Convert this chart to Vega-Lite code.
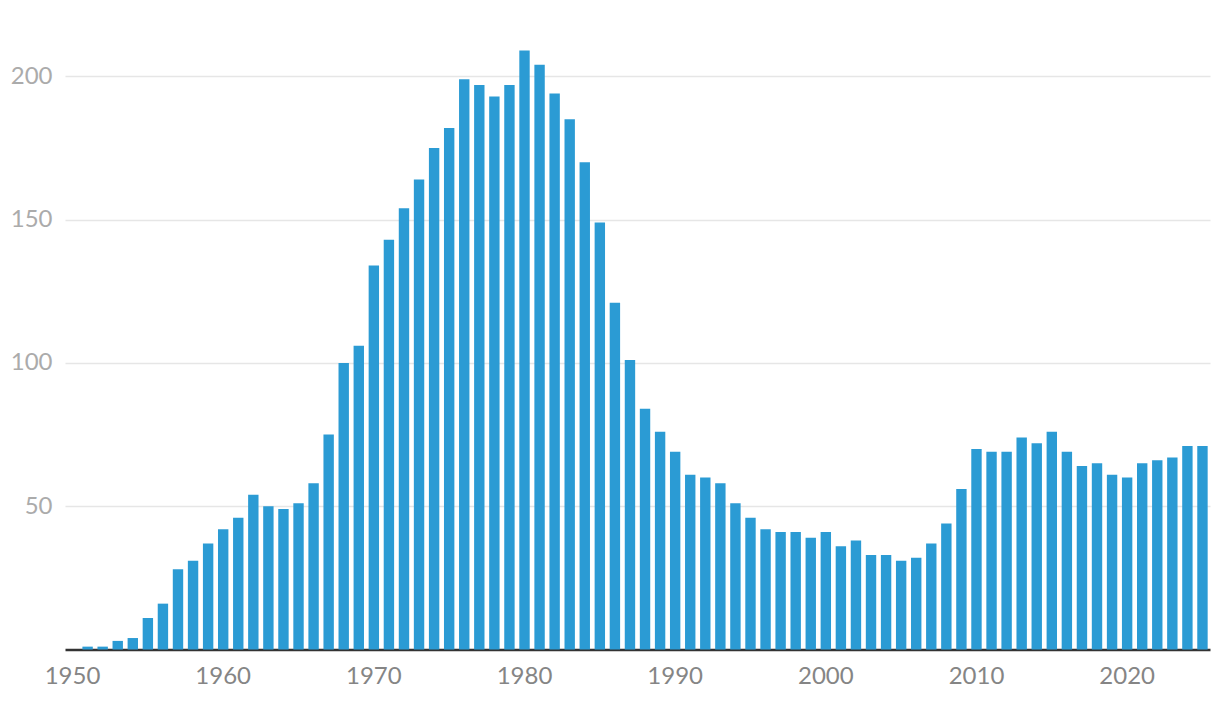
{
  "$schema": "https://vega.github.io/schema/vega-lite/v6.json",
  "autosize": "none",
  "width": 1145,
  "height": 630.5,
  "padding": {"left": 65, "top": 19, "right": 10, "bottom": 58},
  "background": "white",
  "data": {
    "values": [
      {"year": 1950, "value": 0},
      {"year": 1951, "value": 1},
      {"year": 1952, "value": 1},
      {"year": 1953, "value": 3},
      {"year": 1954, "value": 4},
      {"year": 1955, "value": 11},
      {"year": 1956, "value": 16},
      {"year": 1957, "value": 28},
      {"year": 1958, "value": 31},
      {"year": 1959, "value": 37},
      {"year": 1960, "value": 42},
      {"year": 1961, "value": 46},
      {"year": 1962, "value": 54},
      {"year": 1963, "value": 50},
      {"year": 1964, "value": 49},
      {"year": 1965, "value": 51},
      {"year": 1966, "value": 58},
      {"year": 1967, "value": 75},
      {"year": 1968, "value": 100},
      {"year": 1969, "value": 106},
      {"year": 1970, "value": 134},
      {"year": 1971, "value": 143},
      {"year": 1972, "value": 154},
      {"year": 1973, "value": 164},
      {"year": 1974, "value": 175},
      {"year": 1975, "value": 182},
      {"year": 1976, "value": 199},
      {"year": 1977, "value": 197},
      {"year": 1978, "value": 193},
      {"year": 1979, "value": 197},
      {"year": 1980, "value": 209},
      {"year": 1981, "value": 204},
      {"year": 1982, "value": 194},
      {"year": 1983, "value": 185},
      {"year": 1984, "value": 170},
      {"year": 1985, "value": 149},
      {"year": 1986, "value": 121},
      {"year": 1987, "value": 101},
      {"year": 1988, "value": 84},
      {"year": 1989, "value": 76},
      {"year": 1990, "value": 69},
      {"year": 1991, "value": 61},
      {"year": 1992, "value": 60},
      {"year": 1993, "value": 58},
      {"year": 1994, "value": 51},
      {"year": 1995, "value": 46},
      {"year": 1996, "value": 42},
      {"year": 1997, "value": 41},
      {"year": 1998, "value": 41},
      {"year": 1999, "value": 39},
      {"year": 2000, "value": 41},
      {"year": 2001, "value": 36},
      {"year": 2002, "value": 38},
      {"year": 2003, "value": 33},
      {"year": 2004, "value": 33},
      {"year": 2005, "value": 31},
      {"year": 2006, "value": 32},
      {"year": 2007, "value": 37},
      {"year": 2008, "value": 44},
      {"year": 2009, "value": 56},
      {"year": 2010, "value": 70},
      {"year": 2011, "value": 69},
      {"year": 2012, "value": 69},
      {"year": 2013, "value": 74},
      {"year": 2014, "value": 72},
      {"year": 2015, "value": 76},
      {"year": 2016, "value": 69},
      {"year": 2017, "value": 64},
      {"year": 2018, "value": 65},
      {"year": 2019, "value": 61},
      {"year": 2020, "value": 60},
      {"year": 2021, "value": 65},
      {"year": 2022, "value": 66},
      {"year": 2023, "value": 67},
      {"year": 2024, "value": 71},
      {"year": 2025, "value": 71}
    ]
  },
  "mark": {"type": "bar", "color": "#2b9bd4"},
  "encoding": {
    "x": {
      "field": "year",
      "type": "ordinal",
      "scale": {"paddingInner": 0.31, "paddingOuter": 0.155},
      "axis": {
        "title": null,
        "values": [1950, 1960, 1970, 1980, 1990, 2000, 2010, 2020],
        "labelAngle": 0,
        "labelFont": "Lato",
        "labelFontSize": 24,
        "labelColor": "#858585",
        "labelPadding": 15,
        "ticks": false,
        "domainColor": "#333333",
        "domainWidth": 2.5,
        "grid": false
      }
    },
    "y": {
      "field": "value",
      "type": "quantitative",
      "scale": {"domain": [0, 220], "nice": false},
      "axis": {
        "title": null,
        "values": [50, 100, 150, 200],
        "labelFont": "Lato",
        "labelFontSize": 24,
        "labelColor": "#ababab",
        "labelPadding": 13,
        "ticks": false,
        "domain": false,
        "grid": true,
        "gridColor": "#e6e6e6",
        "gridWidth": 1.5
      }
    }
  },
  "config": {"view": {"stroke": null}}
}
